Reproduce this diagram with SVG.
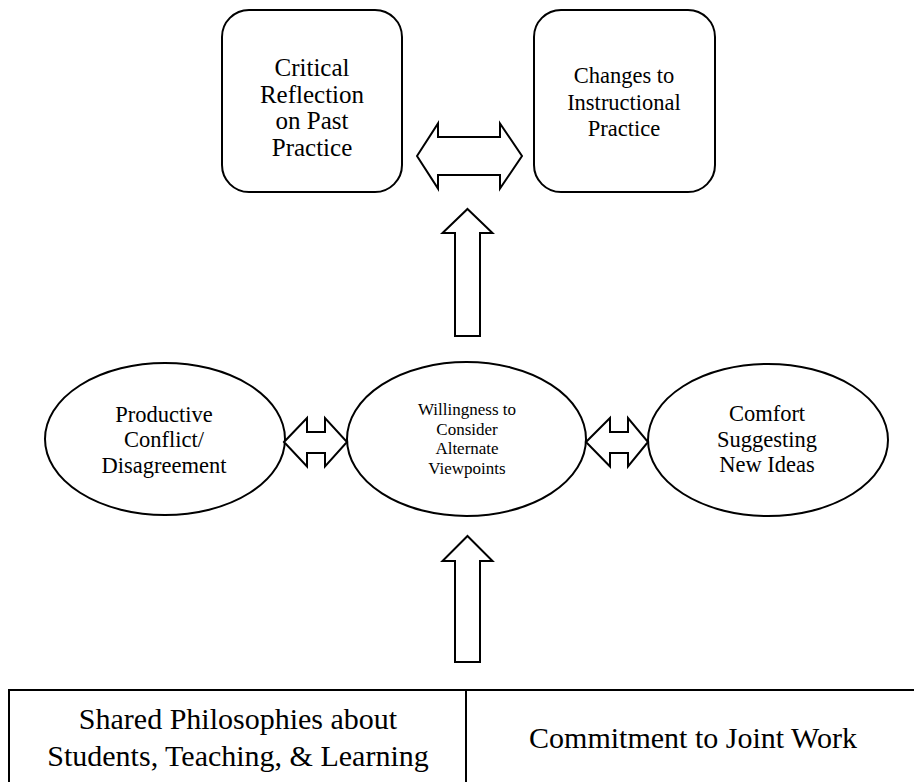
<svg xmlns="http://www.w3.org/2000/svg" width="914" height="782" viewBox="0 0 914 782">
<style>
.shape{fill:#fff;stroke:#000;stroke-width:2}
.arrow{fill:#fff;stroke:#000;stroke-width:2;stroke-linejoin:miter}
text{font-family:"Liberation Serif","Times New Roman",serif;fill:#000;text-anchor:middle}
.t25{font-size:25px}
.t22{font-size:22.5px}
.t17{font-size:17px}
.t30{font-size:30px}
</style>
<rect width="914" height="782" fill="#fff"/>
<g id="critical-reflection">
<rect class="shape" x="222" y="10" width="180" height="182" rx="27" ry="27"/>
<text class="t25" x="312" y="76">Critical</text>
<text class="t25" x="312" y="102.5">Reflection</text>
<text class="t25" x="312" y="129">on Past</text>
<text class="t25" x="312" y="155.5">Practice</text>
</g>
<g id="changes-instructional">
<rect class="shape" x="534" y="10" width="181" height="182" rx="27" ry="27"/>
<text class="t22" x="624" y="83">Changes to</text>
<text class="t22" x="624" y="110">Instructional</text>
<text class="t22" x="624" y="136">Practice</text>
</g>
<g id="productive-conflict">
<ellipse class="shape" cx="165" cy="439" rx="120" ry="76"/>
<text class="t22" x="164" y="422">Productive</text>
<text class="t22" x="164" y="447">Conflict/</text>
<text class="t22" x="164" y="473">Disagreement</text>
</g>
<g id="willingness">
<ellipse class="shape" cx="466.5" cy="439" rx="119.5" ry="77"/>
<text class="t17" x="467" y="415">Willingness to</text>
<text class="t17" x="467" y="434.5">Consider</text>
<text class="t17" x="467" y="454">Alternate</text>
<text class="t17" x="467" y="473.5">Viewpoints</text>
</g>
<g id="comfort">
<ellipse class="shape" cx="768" cy="440" rx="120" ry="76"/>
<text class="t22" x="767" y="421">Comfort</text>
<text class="t22" x="767" y="447">Suggesting</text>
<text class="t22" x="767" y="472">New Ideas</text>
</g>
<g id="foundation-table">
<rect class="shape" x="9" y="690" width="930" height="110"/>
<line x1="466" y1="690" x2="466" y2="782" stroke="#000" stroke-width="2"/>
<text class="t30" x="238" y="729">Shared Philosophies about</text>
<text class="t30" x="238" y="766">Students, Teaching, &amp; Learning</text>
<text class="t30" x="693" y="748">Commitment to Joint Work</text>
</g>
<g id="connectors">
<polygon class="arrow" points="417,156 438,123.5 438,137 500,137 500,123.5 522,156 500,188.5 500,175 438,175 438,188.5"/>
<polygon class="arrow" points="467.5,209 492.5,233 480,233 480,336 455,336 455,233 442.5,233"/>
<polygon class="arrow" points="467.5,536 492.5,561 480,561 480,662 455,662 455,561 442.5,561"/>
<polygon class="arrow" points="284,442 307,418 307,432 325,432 325,418 347,442 325,466.5 325,453 307,453 307,466.5"/>
<polygon class="arrow" points="586,442 610,418 610,432 628,432 628,418 648,442 628,466.5 628,453 610,453 610,466.5"/>
</g>
</svg>
